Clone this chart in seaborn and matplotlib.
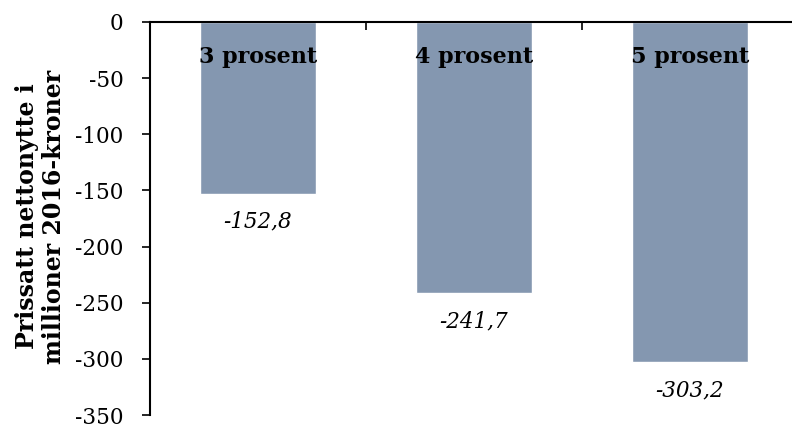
import matplotlib
matplotlib.use("Agg")
import matplotlib.pyplot as plt
import seaborn as sns
import pandas as pd

categories = ["3 prosent", "4 prosent", "5 prosent"]
values = [-152.8, -241.7, -303.2]
value_labels = ["-152,8", "-241,7", "-303,2"]
y_ticks = [0, -50, -100, -150, -200, -250, -300, -350]

sns.set_style("white")
plt.rcParams["font.family"] = ["DejaVu Serif"]
plt.rcParams["text.color"] = "black"
plt.rcParams["axes.labelcolor"] = "black"
plt.rcParams["xtick.color"] = "black"
plt.rcParams["ytick.color"] = "black"

df = pd.DataFrame({"kategori": categories, "verdi": values})

fig = plt.figure(figsize=(7.92, 4.25), dpi=100)
ax = fig.add_axes([150 / 792, 10 / 425, 648 / 792, 393 / 425])

sns.barplot(data=df, x="kategori", y="verdi", color="#8497B0", width=0.54,
            saturation=1, ax=ax)

ax.set_ylim(-350, 0)
ax.set_xlim(-0.5, 2.5)
ax.set_yticks(y_ticks)
ax.set_yticklabels([str(t) for t in y_ticks])
ax.tick_params(axis="y", direction="out", length=6, width=1.2, labelsize=15.5,
               left=True, pad=13)

# x-axis sits on the top (y=0) with small inward ticks between categories
ax.set_xticks([0.5, 1.5])
ax.set_xticklabels([])
ax.tick_params(axis="x", bottom=False, top=True, direction="in", length=6, width=1.2)

for side in ["right", "bottom"]:
    ax.spines[side].set_visible(False)
for side in ["left", "top"]:
    ax.spines[side].set_color("black")
    ax.spines[side].set_linewidth(1.5)

ax.set_xlabel("")
ax.set_ylabel("Prissatt nettonytte i\nmillioner 2016-kroner", fontsize=17,
              fontweight="bold", linespacing=1.2, va="center")
ax.yaxis.set_label_coords(-0.169, 0.505)

for i, (cat, v, lab) in enumerate(zip(categories, values, value_labels)):
    ax.annotate(cat, (i, 0), xytext=(0, -25), textcoords="offset points",
                ha="center", va="center", fontsize=16, fontweight="bold")
    ax.annotate(lab, (i, v), xytext=(0, -20), textcoords="offset points",
                ha="center", va="center", fontsize=15.5, fontstyle="italic")

fig.savefig("out.png", dpi=100)
